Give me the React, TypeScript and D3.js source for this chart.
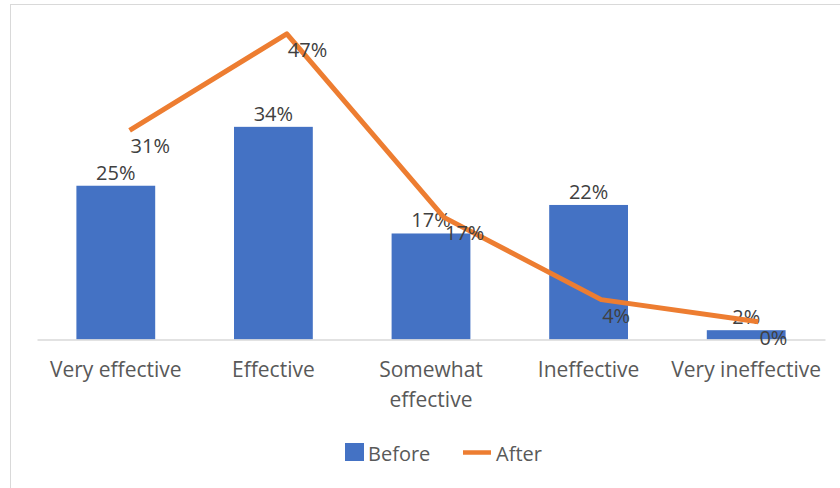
import React, { useEffect, useRef } from 'react';
import * as d3 from 'd3';

const categories = ['Very effective', 'Effective', 'Somewhat effective', 'Ineffective', 'Very ineffective'];
const categoryLines = [['Very effective'], ['Effective'], ['Somewhat', 'effective'], ['Ineffective'], ['Very ineffective']];
const beforeValues = [24.8, 34.3, 17.1, 21.7, 1.5];
const afterValues = [31.2, 46.9, 17.0, 3.6, 0.0];
const seriesNames = ['Before', 'After'];

const W = 840;
const H = 488;
const FONT = '"Open Sans", "Noto Sans", sans-serif';
const BLUE = '#4472C4';
const ORANGE = '#ED7D31';

export default function App() {
  const svgRef = useRef<SVGSVGElement>(null);

  useEffect(() => {
    const svg = d3.select(svgRef.current);
    svg.selectAll('*').remove();

    // chart frame (runs off the right/bottom edge in the reference)
    svg.append('rect')
      .attr('x', 10.5).attr('y', 4.5)
      .attr('width', W).attr('height', H + 20)
      .attr('fill', '#fff').attr('stroke', '#d9d9d9');

    const x = d3.scaleBand<string>().domain(categories).range([37, 825]).paddingInner(0.5).paddingOuter(0.25);
    // the line series sits on a secondary category axis, nudged right
    const xAfter = d3.scalePoint<string>().domain(categories).range([51, 837]).padding(0.5);
    const yBefore = d3.scaleLinear().domain([0, 40]).range([339.5, 91.5]);
    const yAfter = d3.scaleLinear().domain([0, 50]).range([321.7, 14.9]);

    // bars
    svg.append('g').selectAll('rect')
      .data(beforeValues)
      .join('rect')
      .attr('x', (_, i) => x(categories[i])!)
      .attr('y', (d) => yBefore(d))
      .attr('width', x.bandwidth())
      .attr('height', (d) => yBefore(0) - yBefore(d))
      .attr('fill', BLUE);

    // x axis
    const axis = svg.append('g')
      .attr('transform', `translate(0, ${yBefore(0)})`)
      .call(d3.axisBottom(x).tickSize(0).tickSizeOuter(0).tickFormat(() => ''));
    axis.select('.domain').attr('stroke', '#d9d9d9').attr('stroke-width', 1.5);

    const labels = svg.append('g')
      .attr('font-family', FONT).attr('font-size', 21).attr('fill', '#595959')
      .attr('text-anchor', 'middle');
    categoryLines.forEach((lines, i) => {
      const t = labels.append('text')
        .attr('x', x(categories[i])! + x.bandwidth() / 2)
        .attr('y', 377);
      lines.forEach((l, j) => {
        t.append('tspan')
          .attr('x', x(categories[i])! + x.bandwidth() / 2)
          .attr('dy', j === 0 ? 0 : 30)
          .text(l);
      });
    });

    // before labels
    svg.append('g')
      .attr('font-family', FONT).attr('font-size', 20).attr('fill', '#404040')
      .attr('text-anchor', 'middle')
      .selectAll('text')
      .data(beforeValues)
      .join('text')
      .attr('x', (_, i) => x(categories[i])! + x.bandwidth() / 2)
      .attr('y', (d) => yBefore(d) - 6)
      .text((d) => `${Math.round(d)}%`);

    // after line
    const line = d3.line<number>()
      .x((_, i) => xAfter(categories[i])!)
      .y((d) => yAfter(d));
    svg.append('path')
      .datum(afterValues)
      .attr('d', line)
      .attr('fill', 'none')
      .attr('stroke', ORANGE)
      .attr('stroke-width', 5)
      .attr('stroke-linejoin', 'round');

    svg.append('g')
      .attr('font-family', FONT).attr('font-size', 20).attr('fill', '#404040')
      .attr('text-anchor', 'start')
      .selectAll('text')
      .data(afterValues)
      .join('text')
      .attr('x', (_, i) => xAfter(categories[i])! + 1)
      .attr('y', (d) => yAfter(d) + 23)
      .text((d) => `${Math.round(d)}%`);

    // legend
    const legend = svg.append('g').attr('font-family', FONT).attr('font-size', 20).attr('fill', '#595959');
    legend.append('rect').attr('x', 345).attr('y', 443).attr('width', 19).attr('height', 18).attr('fill', BLUE);
    legend.append('text').attr('x', 368).attr('y', 461).text(seriesNames[0]);
    legend.append('line').attr('x1', 463).attr('x2', 491).attr('y1', 452.5).attr('y2', 452.5)
      .attr('stroke', ORANGE).attr('stroke-width', 4.5);
    legend.append('text').attr('x', 496).attr('y', 461).text(seriesNames[1]);
  }, []);

  return (
    <svg ref={svgRef} width={W} height={H} style={{ position: 'absolute', left: 0, top: 0, background: '#fff' }} />
  );
}
